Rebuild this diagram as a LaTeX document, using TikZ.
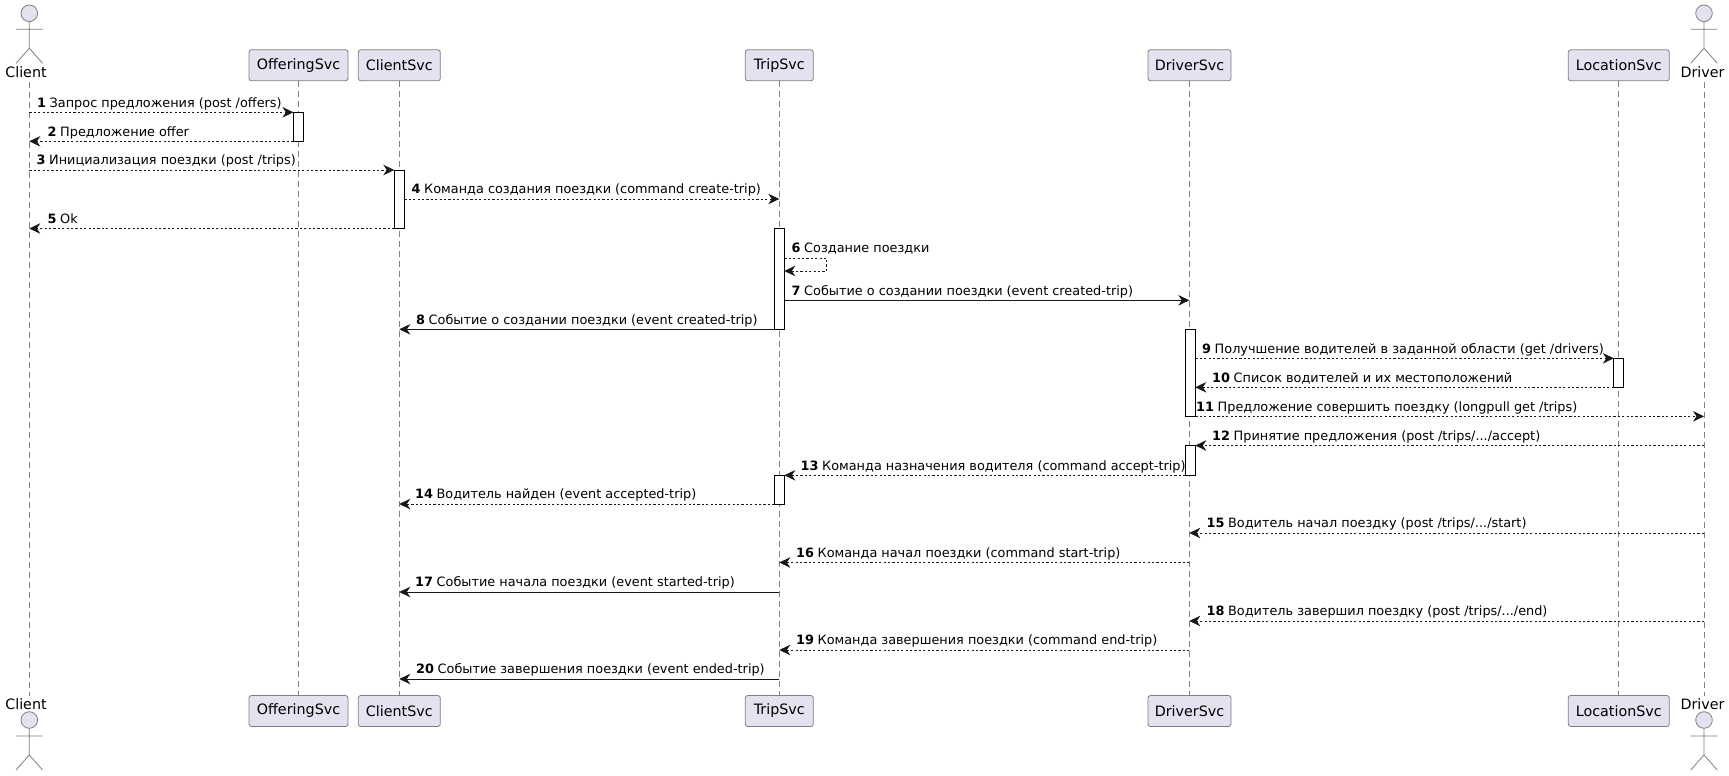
\documentclass[tikz,border=0pt]{standalone}
\usepackage{fontspec}
\setmainfont{DejaVu Sans}
\usetikzlibrary{arrows.meta}
\definecolor{partfill}{HTML}{E2E2F0}
\definecolor{partline}{HTML}{7F7F7F}
\definecolor{lifeline}{HTML}{808080}
\definecolor{msgink}{HTML}{181818}
\tikzset{
  x=1pt,y=-1pt,
  headbox/.style={draw=partline,fill=partfill,line width=.8pt,rounded corners=2.5pt,minimum height=31pt,inner sep=0pt,font=\fontsize{14.3}{17}\selectfont,text=black},
  actorlabel/.style={inner sep=0pt,font=\fontsize{14.3}{17}\selectfont,text=black},
  life/.style={draw=lifeline,line width=.7pt,dash pattern=on 5.5pt off 4.5pt},
  bar/.style={draw=black,fill=white,line width=.8pt,minimum width=10pt,inner sep=0pt},
  sync/.style={draw=msgink,line width=.9pt,-{Stealth[inset=3.5pt,length=11pt,width=10.5pt]}},
  reply/.style={sync,dash pattern=on 2.2pt off 2.2pt},
  msgtext/.style={inner sep=0pt,anchor=base west,font=\fontsize{12.85}{16}\selectfont,text=black},
}
% stick figure with its head centred on the given point
\newcommand{\stickman}[2]{%
  \draw[draw=partline,fill=partfill,line width=.8pt] (#1,#2) circle[radius=8.3];
  \draw[draw=partline,line width=.8pt] (#1,#2+8.3) -- (#1,#2+35)
    (#1-13.3,#2+16) -- (#1+13.3,#2+16)
    (#1-13.3,#2+50) -- (#1,#2+35) -- (#1+13.3,#2+50);}
% message: name, start x, end x, y, text x, number, text, style
\newcommand{\msg}[8]{%
  \coordinate (#1s) at (#2,#4);
  \coordinate (#1e) at (#3,#4);
  \draw[#8] (#1s) -- (#1e);
  \node[msgtext] (#1t) at (#5,#4-5.2) {\textbf{#6}\hspace{-.5pt} #7};}
% activation bar: name, centre x, top y, bottom y
\newcommand{\activation}[4]{%
  \node[bar,minimum height=#4-#3] (#1) at (#2,{(#3+#4)/2}) {};}
\begin{document}
\begin{tikzpicture}
\useasboundingbox (0,0) rectangle (1729,776);
\fill[white] (0,0) rectangle (1729,776);
% participants, top row
\node[actorlabel] (clientTop) at (26,72.5) {Client};
\node[headbox,minimum width=99pt] (offerTop) at (298.5,65.3) {OfferingSvc};
\node[headbox,minimum width=82pt] (csTop) at (399.3,65.3) {ClientSvc};
\node[headbox,minimum width=68pt] (tripTop) at (779.3,65.3) {TripSvc};
\node[headbox,minimum width=83pt] (drvTop) at (1189.5,65.3) {DriverSvc};
\node[headbox,minimum width=101pt] (locTop) at (1618.8,65.3) {LocationSvc};
\node[actorlabel] (driverTop) at (1702.5,72.5) {Driver};
% participants, bottom row
\node[actorlabel] (clientBot) at (26,704) {Client};
\node[headbox,minimum width=99pt] (offerBot) at (298.5,711) {OfferingSvc};
\node[headbox,minimum width=82pt] (csBot) at (399.3,711) {ClientSvc};
\node[headbox,minimum width=68pt] (tripBot) at (779.3,711) {TripSvc};
\node[headbox,minimum width=83pt] (drvBot) at (1189.5,711) {DriverSvc};
\node[headbox,minimum width=101pt] (locBot) at (1618.8,711) {LocationSvc};
\node[actorlabel] (driverBot) at (1702.5,704) {Driver};
% lifelines
\coordinate (clientA) at (29.3,82); \coordinate (clientB) at (29.3,696);
\coordinate (driverA) at (1704,82); \coordinate (driverB) at (1704,696);
\draw[life] (clientA) -- (clientB);
\draw[life] (driverA) -- (driverB);
\draw[life] (offerTop.south) -- (offerBot.north);
\draw[life] (csTop.south) -- (csBot.north);
\draw[life] (tripTop.south) -- (tripBot.north);
\draw[life] (drvTop.south) -- (drvBot.north);
\draw[life] (locTop.south) -- (locBot.north);
\stickman{29.3}{13.3}
\stickman{1704}{13.3}
\stickman{29.3}{720}
\stickman{1704}{720}
% activation bars
\activation{barA}{298.4}{112.3}{141.3}
\activation{barB}{399.3}{170}{228.5}
\activation{barC}{779.3}{228.3}{329.3}
\activation{barD}{1190.3}{329.3}{416.3}
\activation{barE}{1618.8}{358.3}{387.3}
\activation{barF}{1190.3}{445.5}{475.3}
\activation{barG}{779.3}{475.3}{504}
% messages
\msg{mA}{29.3}{293.4}{112.3}{37}{1}{Запрос предложения (post /offers)}{reply}
\msg{mB}{293.4}{29.3}{141.3}{47.5}{2}{Предложение offer}{reply}
\msg{mC}{29.3}{394.3}{170}{36.5}{3}{Инициализация поездки (post /trips)}{reply}
\msg{mD}{404.3}{779.3}{199}{411.5}{4}{Команда создания поездки (command create-trip)}{reply}
\msg{mE}{394.3}{29.3}{228.5}{47.5}{5}{Ok}{reply}
\draw[reply] (784.3,258.3) -- (826.7,258.3) -- (826.7,271) -- (784.3,271);
\node[msgtext] (mFt) at (791.5,252.9) {\textbf{6}\hspace{-.5pt} Создание поездки};
\msg{mG}{784.3}{1189.3}{300.3}{791.5}{7}{Событие о создании поездки (event created-trip)}{sync}
\msg{mH}{774.3}{399.3}{329.3}{416}{8}{Событие о создании поездки (event created-trip)}{sync}
\msg{mI}{1195.3}{1613.8}{358.3}{1202}{9}{Получшение водителей в заданной области (get /drivers)}{reply}
\msg{mJ}{1613.8}{1195.3}{387.3}{1212}{10}{Список водителей и их местоположений}{reply}
\msg{mK}{1195.3}{1704}{416.3}{1196}{11}{Предложение совершить поездку (longpull get /trips)}{reply}
\msg{mL}{1704}{1195.3}{445.5}{1212}{12}{Принятие предложения (post /trips/.../accept)}{reply}
\msg{mM}{1185.3}{784.3}{475.3}{800.5}{13}{Команда назначения водителя (command accept-trip)}{reply}
\msg{mN}{774.3}{399.3}{504}{415}{14}{Водитель найден (event accepted-trip)}{reply}
\msg{mO}{1704}{1189.3}{533}{1206.5}{15}{Водитель начал поездку (post /trips/.../start)}{reply}
\msg{mP}{1189.3}{779.3}{562.5}{796}{16}{Команда начал поездки (command start-trip)}{reply}
\msg{mQ}{779.3}{399.3}{592}{415}{17}{Событие начала поездки (event started-trip)}{sync}
\msg{mR}{1704}{1189.3}{621}{1206.5}{18}{Водитель завершил поездку (post /trips/.../end)}{reply}
\msg{mS}{1189.3}{779.3}{650}{796}{19}{Команда завершения поездки (command end-trip)}{reply}
\msg{mT}{779.3}{399.3}{679}{416}{20}{Событие завершения поездки (event ended-trip)}{sync}
\end{tikzpicture}
\end{document}
